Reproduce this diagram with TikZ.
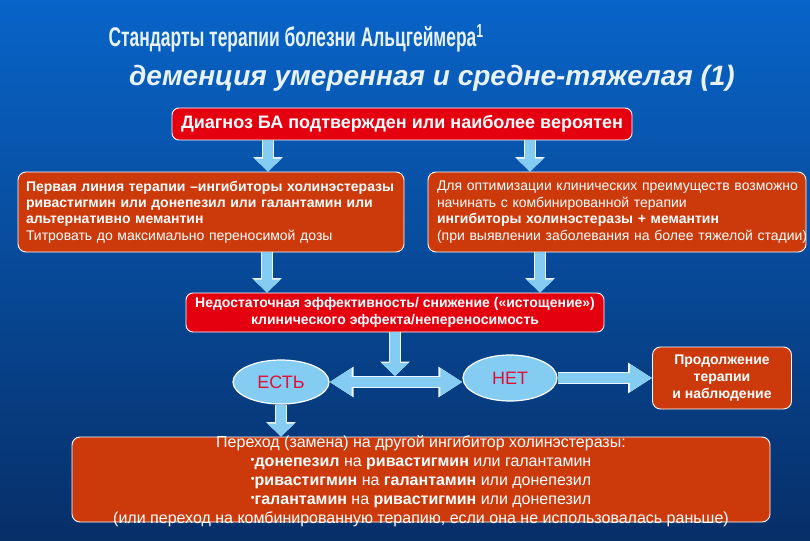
\documentclass[tikz,border=0pt]{standalone}
\usepackage{fontspec}
\setmainfont{Liberation Sans}
\usetikzlibrary{arrows.meta,shapes.geometric}
\definecolor{bgtop}{HTML}{0864C8}
\definecolor{bgmid}{HTML}{0A4C9E}
\definecolor{bgbot}{HTML}{072F68}
\definecolor{boxred}{HTML}{E5000F}
\definecolor{boxor}{HTML}{CC3A0C}
\definecolor{arrblue}{HTML}{84CCF2}
\definecolor{titlecol}{HTML}{E8F2FC}
\definecolor{textred}{HTML}{E0103C}
\newcommand{\fs}[2]{\fontsize{#1}{#2}\selectfont}
\newcommand{\bul}{{\fs{11}{11}\raisebox{2.5pt}{•}}}
\tikzset{
  redbox/.style={draw=white, line width=0.9pt, rounded corners=7pt, fill=boxred, text=white, inner sep=0pt},
  orbox/.style={draw=white, line width=0.9pt, rounded corners=8pt, fill=boxor, text=white, inner sep=0pt},
  oval/.style={ellipse, draw=white, line width=1.2pt, fill=arrblue, text=textred, inner sep=0pt, font=\fs{18}{21}},
  vtip/.tip={Triangle[width=26pt,length=13pt]},
  vtipo/.tip={Triangle[width=29pt,length=14.5pt]},
  htip/.tip={Triangle[width=26pt,length=22pt]},
  htipo/.tip={Triangle[width=29pt,length=24pt]},
  varrow/.style={draw=arrblue, line width=10pt, -vtip, preaction={draw=white!85!arrblue, line width=12pt, -vtipo}},
  harrow/.style={draw=arrblue, line width=10pt, -htip, preaction={draw=white!85!arrblue, line width=12pt, -htipo}},
  dharrow/.style={draw=arrblue, line width=10pt, htip-htip, preaction={draw=white!85!arrblue, line width=12pt, htipo-htipo}},
}
\begin{document}
\begin{tikzpicture}[x=1pt,y=-1pt]
\shade[top color=bgtop, middle color=bgmid, bottom color=bgbot] (0,0) rectangle (810,540);
\useasboundingbox (0,0) rectangle (810,540);

% titles
\node[text=titlecol, font=\bfseries\fs{27}{30}] (title) at (296,38)
  {\scalebox{0.645}[1]{Стандарты терапии болезни Альцгеймера\textsuperscript{1}}};
\node[text=titlecol, font=\bfseries\itshape\fs{28}{32}] (subtitle) at (432,78)
  {деменция умеренная и средне-тяжелая (1)};

% boxes
\node[redbox, minimum width=460pt, minimum height=32pt, font=\bfseries\fs{18}{21}] (diag) at (402,124)
  {Диагноз БА подтвержден или наиболее вероятен};
\node[orbox, minimum width=386pt, minimum height=80pt, text width=370pt, align=left, font=\fs{14}{16.3}] (left) at (211,212)
  {\mbox{\textbf{Первая линия терапии –ингибиторы холинэстеразы}}\\
   \mbox{\textbf{ривастигмин или донепезил или галантамин или}}\\
   \mbox{\textbf{альтернативно мемантин}}\\
   \mbox{Титровать до максимально переносимой дозы}};
\node[orbox, minimum width=378pt, minimum height=80pt, text width=360pt, align=left, font=\fs{14}{16.5}] (right) at (617,212)
  {\mbox{Для оптимизации клинических преимуществ возможно}\\
   \mbox{начинать с комбинированной терапии}\\
   \mbox{\textbf{ингибиторы холинэстеразы + мемантин}}\\
   \mbox{(при выявлении заболевания на более тяжелой стадии)}};
\node[redbox, minimum width=418pt, minimum height=39pt, align=center, font=\bfseries\fs{14}{17}] (mid) at (395,312.5)
  {Недостаточная эффективность/ снижение («истощение»)\\клинического эффекта/непереносимость};
\node[oval, minimum width=96pt, minimum height=44pt] (yes) at (281,382) {ЕСТЬ};
\node[oval, minimum width=94pt, minimum height=46pt] (no) at (510,378) {НЕТ};
\node[orbox, minimum width=139pt, minimum height=62pt, align=center, font=\bfseries\fs{14}{17}] (cont) at (722,378)
  {Продолжение\\терапии\\и наблюдение};
\node[orbox, minimum width=698pt, minimum height=85pt] (bottom) at (421,479.5) {};
\node[text=white, align=center, font=\fs{16}{19}, inner sep=0pt] (bottomtext) at (421,481)
  {Переход (замена) на другой ингибитор холинэстеразы:\\
   \bul\textbf{донепезил} на \textbf{ривастигмин} или галантамин\\
   \bul\textbf{ривастигмин} на \textbf{галантамин} или донепезил\\
   \bul\textbf{галантамин} на \textbf{ривастигмин} или донепезил\\
   (или переход на комбинированную терапию, если она не использовалась раньше)};

% connectors
\coordinate (junction) at (395,376);
\draw[varrow] (diag.south -| 268,0) -- (left.north -| 268,0);
\draw[varrow] (diag.south -| 530,0) -- (right.north -| 530,0);
\draw[varrow] (left.south -| 267,0) -- (mid.north -| 267,0);
\draw[varrow] (right.south -| 540,0) -- (mid.north -| 540,0);
\draw[varrow] (mid.south) -- (junction);
\draw[dharrow] (yes.east) -- (no.west |- yes.east);
\draw[harrow] (no.east) -- (cont.west);
\draw[varrow] (yes.south) -- (bottom.north -| yes.south);
\end{tikzpicture}
\end{document}
